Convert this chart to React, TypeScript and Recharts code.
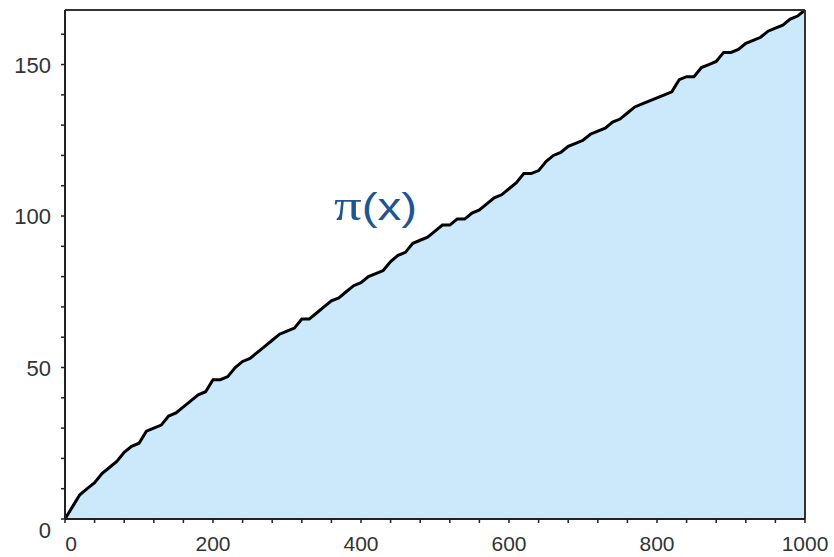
import React from 'react';
import { ComposedChart, Area, XAxis, YAxis, ReferenceLine } from 'recharts';

// x sampled every 10
const xValues: number[] = [
  0, 10, 20, 30, 40, 50, 60, 70, 80, 90, 100, 110, 120, 130, 140, 150, 160, 170, 180, 190, 200,
  210, 220, 230, 240, 250, 260, 270, 280, 290, 300, 310, 320, 330, 340, 350, 360, 370, 380, 390, 400,
  410, 420, 430, 440, 450, 460, 470, 480, 490, 500, 510, 520, 530, 540, 550, 560, 570, 580, 590, 600,
  610, 620, 630, 640, 650, 660, 670, 680, 690, 700, 710, 720, 730, 740, 750, 760, 770, 780, 790, 800,
  810, 820, 830, 840, 850, 860, 870, 880, 890, 900, 910, 920, 930, 940, 950, 960, 970, 980, 990, 1000,
];

// π(x) read at those points
const piValues: number[] = [
  0, 4, 8, 10, 12, 15, 17, 19, 22, 24, 25, 29, 30, 31, 34, 35, 37, 39, 41, 42, 46,
  46, 47, 50, 52, 53, 55, 57, 59, 61, 62, 63, 66, 66, 68, 70, 72, 73, 75, 77, 78,
  80, 81, 82, 85, 87, 88, 91, 92, 93, 95, 97, 97, 99, 99, 101, 102, 104, 106, 107, 109,
  111, 114, 114, 115, 118, 120, 121, 123, 124, 125, 127, 128, 129, 131, 132, 134, 136, 137, 138, 139,
  140, 141, 145, 146, 146, 149, 150, 151, 154, 154, 155, 157, 158, 159, 161, 162, 163, 165, 166, 168,
];

const xTicks: number[] = [0, 40, 80, 120, 160, 200, 240, 280, 320, 360, 400, 440, 480, 520, 560, 600, 640, 680, 720, 760, 800, 840, 880, 920, 960, 1000];
const xLabels: number[] = [0, 200, 400, 600, 800, 1000];
const yTicks: number[] = [0, 10, 20, 30, 40, 50, 60, 70, 80, 90, 100, 110, 120, 130, 140, 150, 160];
const yLabels: number[] = [0, 50, 100, 150];

const data = xValues.map((x, i) => ({ x, pi: piValues[i] }));

const font = '"Liberation Sans", Arial, sans-serif';

const XTick = (props: any) => {
  const { x, y, payload } = props;
  if (!xLabels.includes(payload.value)) return null;
  const shift = payload.value === 0 ? 6 : 0;
  return (
    <text x={x + shift} y={y + 26} textAnchor="middle" fontSize={21} fontFamily={font} fill="#333">
      {payload.value}
    </text>
  );
};

const YTick = (props: any) => {
  const { x, y, payload } = props;
  if (!yLabels.includes(payload.value)) return null;
  const shift = payload.value === 0 ? 11 : 0;
  return (
    <text x={x - 8} y={y + 8 + shift} textAnchor="end" fontSize={22} fontFamily={font} fill="#333">
      {payload.value}
    </text>
  );
};

export default function App() {
  return (
    <div style={{ position: 'absolute', left: 0, top: 0, width: 834, height: 557, background: '#fff' }}>
      <ComposedChart
        width={834}
        height={557}
        data={data}
        margin={{ top: 10, right: 29, left: 0, bottom: 0 }}
      >
        <XAxis
          dataKey="x"
          type="number"
          domain={[0, 1000]}
          ticks={xTicks}
          interval={0}
          height={38}
          tick={<XTick />}
          tickSize={4}
          axisLine={{ stroke: '#222', strokeWidth: 2 }}
          tickLine={{ stroke: '#222', strokeWidth: 1.5 }}
        />
        <YAxis
          type="number"
          domain={[0, 168]}
          ticks={yTicks}
          interval={0}
          width={65}
          tick={<YTick />}
          tickSize={4}
          axisLine={{ stroke: '#222', strokeWidth: 2 }}
          tickLine={{ stroke: '#222', strokeWidth: 1.5 }}
        />
        <ReferenceLine y={168} stroke="#333" strokeWidth={2} />
        <ReferenceLine x={1000} stroke="#333" strokeWidth={2} />
        <Area
          type="linear"
          dataKey="pi"
          stroke="#000"
          strokeWidth={3}
          fill="#cbe9fb"
          fillOpacity={1}
          isAnimationActive={false}
          dot={false}
          activeDot={false}
        />
      </ComposedChart>
      <div
        style={{
          position: 'absolute',
          left: 334,
          top: 180,
          fontSize: 38,
          color: '#1f5591',
          fontFamily: font,
          lineHeight: 1.2,
          whiteSpace: 'nowrap',
          transform: 'scaleX(1.25)',
          transformOrigin: 'left top',
        }}
      >
        <span style={{ fontFamily: '"Liberation Serif", serif', fontSize: 44 }}>π</span>(x)
      </div>
    </div>
  );
}
